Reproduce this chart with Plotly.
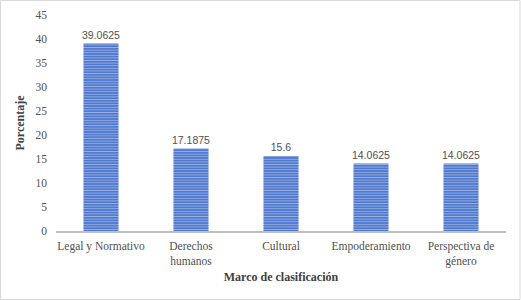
import plotly.graph_objects as go

categories = ["Legal y Normativo", "Derechos<br>humanos", "Cultural", "Empoderamiento", "Perspectiva de<br>género"]
values = [39.0625, 17.1875, 15.6, 14.0625, 14.0625]
labels = ["39.0625", "17.1875", "15.6", "14.0625", "14.0625"]

SERIF = "Liberation Serif"
TXT = "#505050"

fig = go.Figure(go.Bar(
    x=categories, y=values, text=labels, textposition="outside",
    constraintext="none",
    textfont=dict(family="Liberation Sans", size=10.5, color=TXT),
    cliponaxis=False,
    marker=dict(color="#4a74cc", line=dict(width=0),
                pattern=dict(shape="-", fgcolor="#dfe8f8", size=2.6, solidity=0.4, fillmode="overlay")),
))

fig.update_layout(
    width=521, height=300,
    margin=dict(l=56, r=15, t=15, b=69),
    paper_bgcolor="white", plot_bgcolor="white",
    bargap=0.61, showlegend=False,
    font=dict(family=SERIF, size=11.5, color=TXT),
    xaxis=dict(showline=True, linecolor="#bfbfbf", linewidth=2, ticks="", automargin=False,
               ticklabelstandoff=3,
               title=dict(text="<b>Marco de clasificación</b>", font=dict(size=12, family=SERIF, color="#404040"), standoff=6),
               tickfont=dict(size=11.5, family=SERIF, color=TXT)),
    yaxis=dict(range=[0, 45], dtick=5, showgrid=False, zeroline=False, showline=False, ticks="", automargin=False,
               ticklabelstandoff=8,
               title=dict(text="<b>Porcentaje</b>", font=dict(size=12, family=SERIF, color="#404040"), standoff=8),
               tickfont=dict(size=11.5, family=SERIF, color=TXT)),
    shapes=[dict(type="rect", xref="paper", yref="paper", x0=-55.5/450, x1=1+14/450, y0=-68.5/216, y1=1+14.5/216,
                 line=dict(color="#d9d9d9", width=1))],
)

fig.write_html("out.html", config={"displayModeBar": False},
               post_script="document.body.style.margin='0';document.body.style.overflow='hidden';")
